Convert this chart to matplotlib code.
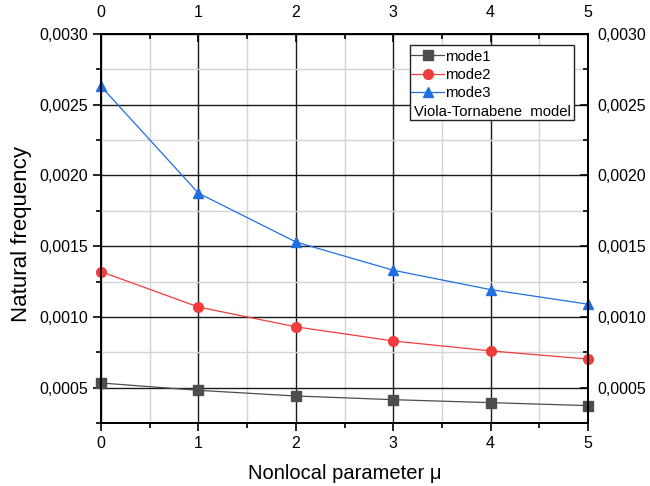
import matplotlib.pyplot as plt
import numpy as np
from matplotlib.ticker import FuncFormatter, MultipleLocator
from matplotlib.patches import Rectangle

mu = [0, 1, 2, 3, 4, 5]
mode1 = [0.000533, 0.000481, 0.000441, 0.000415, 0.000394, 0.000373]
mode2 = [0.00132, 0.00107, 0.00093, 0.00083, 0.00076, 0.000702]
mode3 = [0.00263, 0.001875, 0.00153, 0.00133, 0.001193, 0.00109]
labels = ['mode1', 'mode2', 'mode3']
model_name = 'Viola-Tornabene  model'


def style_ticks(a, **kw):
    a.tick_params(which='both', labelsize=11.5, width=1.2, **kw)
    a.tick_params(which='major', length=6)
    a.tick_params(which='minor', length=3.5)


def main():
    plt.rcParams['font.family'] = ['Liberation Sans', 'DejaVu Sans']

    fig = plt.figure(figsize=(6.5, 4.86), dpi=100)
    ax = fig.add_axes([0.1554, 0.1296, 0.7492, 0.8004])

    xlim = (0, 5)
    ylim = (0.00025, 0.0030)
    fmt = FuncFormatter(lambda v, p: '{:.4f}'.format(v).replace('.', ','))

    # mirrored axes on top and right
    axt = ax.twiny()
    axr = ax.twinx()
    for a in (ax, axt, axr):
        a.set_xlim(*xlim)
        a.set_ylim(*ylim)
        a.xaxis.set_major_locator(MultipleLocator(1))
        a.xaxis.set_minor_locator(MultipleLocator(0.5))
        a.yaxis.set_major_locator(MultipleLocator(0.0005))
        a.yaxis.set_minor_locator(MultipleLocator(0.00025))
        a.yaxis.set_major_formatter(fmt)
        for s in a.spines.values():
            s.set_linewidth(1.3)
    axt.xaxis.set_major_formatter(FuncFormatter(lambda v, p: '%d' % v))
    axt.yaxis.set_visible(False)
    axr.xaxis.set_visible(False)
    axt.patch.set_visible(False)
    axr.patch.set_visible(False)

    style_ticks(ax, direction='out', top=False, right=False)
    style_ticks(axt, direction='in', pad=10)
    style_ticks(axr, direction='in', pad=7)

    ax.grid(which='minor', color='#d4d4d4', lw=1.0)
    ax.grid(which='major', color='#1a1a1a', lw=1.0)
    ax.set_axisbelow(True)

    c1, c2, c3 = '#4d4d4d', '#f03c3c', '#1f6fe0'
    ax.plot(mu, mode1, color=c1, lw=0.9, marker='s', ms=6.5, label=labels[0], clip_on=False, zorder=5)
    ax.plot(mu, mode2, color=c2, lw=0.9, marker='o', ms=7, label=labels[1], clip_on=False, zorder=5)
    ax.plot(mu, mode3, color=c3, lw=0.9, marker='^', ms=7.5, label=labels[2], clip_on=False, zorder=5)

    ax.set_xlabel('Nonlocal parameter μ', fontsize=14.5, labelpad=9)
    ax.set_ylabel('Natural frequency', fontsize=16)
    ax.yaxis.set_label_coords(-0.142, 0.486)

    # legend box with the model name under the entries
    box = Rectangle((0.6345, 0.779), 0.337, 0.193, transform=ax.transAxes,
                    facecolor='white', edgecolor='#222222', lw=1.0, zorder=6)
    ax.add_patch(box)
    leg = ax.legend(loc='upper left', bbox_to_anchor=(0.637, 0.96), frameon=False,
                    fontsize=10.7, handlelength=2.2, handletextpad=0.05,
                    labelspacing=0.28, borderaxespad=0, borderpad=0)
    leg.set_zorder(7)
    ax.text(0.643, 0.781, model_name, transform=ax.transAxes, fontsize=10.7,
            ha='left', va='bottom', zorder=8)

    plt.savefig('out.png', dpi=100)


if __name__ == "__main__":
    main()
